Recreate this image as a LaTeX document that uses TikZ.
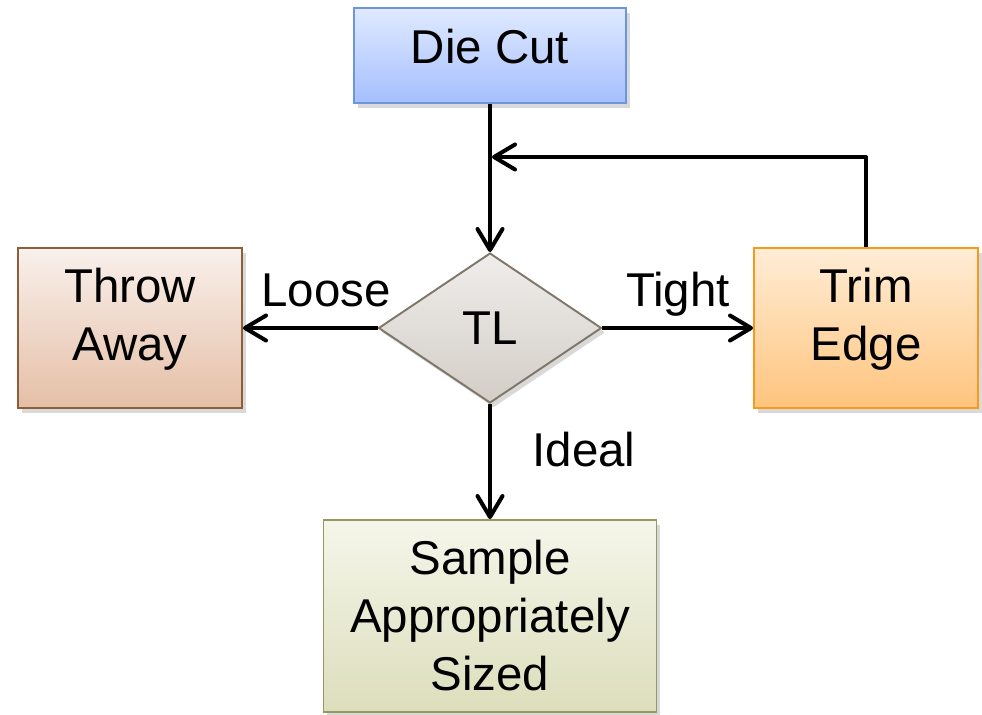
\documentclass[tikz,border=0pt]{standalone}
\usepackage{fontspec}
\setmainfont{Liberation Sans}
\usetikzlibrary{shapes.geometric, arrows.meta, shadows}

\definecolor{dieTop}{HTML}{E0EAFF}
\definecolor{dieBot}{HTML}{A5BFFF}
\definecolor{dieLine}{HTML}{6D95DD}
\definecolor{throwTop}{HTML}{F9F0EC}
\definecolor{throwBot}{HTML}{E5BFA6}
\definecolor{throwLine}{HTML}{8C5E3A}
\definecolor{trimTop}{HTML}{FFEDD6}
\definecolor{trimBot}{HTML}{FFC47E}
\definecolor{trimLine}{HTML}{F79A1C}
\definecolor{tlTop}{HTML}{EFEDEB}
\definecolor{tlBot}{HTML}{D3CDC6}
\definecolor{tlLine}{HTML}{7F7769}
\definecolor{sampleTop}{HTML}{F5F6EA}
\definecolor{sampleBot}{HTML}{DCDEBC}
\definecolor{sampleLine}{HTML}{96985F}

\tikzset{
  box/.style={draw, line width=1.1pt, align=center, inner sep=0pt,
    font=\fontsize{27}{33}\selectfont,
    drop shadow={shadow xshift=0.07cm, shadow yshift=-0.09cm, opacity=0.3}},
  flow/.style={line width=2.3pt, line join=round,
    -{Straight Barb[round,length=0.42cm,width=0.5cm]}},
  lbl/.style={font=\fontsize{27}{33}\selectfont, anchor=base},
}

\begin{document}
\begin{tikzpicture}
\useasboundingbox (0,0) rectangle (19.64,-14.28);

\node[box, draw=dieLine, top color=dieTop, bottom color=dieBot, text depth=0.36cm,
  minimum width=5.44cm, minimum height=1.9cm] (die) at (9.8,-1.11) {Die Cut};
\node[box, diamond, draw=tlLine, top color=tlTop, bottom color=tlBot,
  minimum width=4.46cm, minimum height=3.0cm] (tl) at (9.8,-6.56) {TL};
\node[box, draw=throwLine, top color=throwTop, bottom color=throwBot, text depth=0.56cm,
  minimum width=4.48cm, minimum height=3.2cm] (throw) at (2.6,-6.56) {Throw\\Away};
\node[box, draw=trimLine, top color=trimTop, bottom color=trimBot, text depth=0.56cm,
  minimum width=4.48cm, minimum height=3.2cm] (trim) at (17.32,-6.56) {Trim\\Edge};
\node[box, draw=sampleLine, top color=sampleTop, bottom color=sampleBot,
  minimum width=6.66cm, minimum height=3.84cm] (sample) at (9.8,-12.32) {Sample\\Appropriately\\Sized};

\draw[flow] (die) -- (tl);
\draw[flow] (tl) -- (throw);
\draw[flow] (tl) -- (trim);
\draw[flow] (tl) -- (sample);

% feedback from trim
\coordinate (join) at (9.84,-3.14);
\draw[flow] (trim.north) |- (join);

\node[lbl] (loose) at (6.52,-6.12) {Loose};
\node[lbl] (tight) at (13.56,-6.12) {Tight};
\node[lbl] (ideal) at (11.68,-9.32) {Ideal};
\end{tikzpicture}
\end{document}
